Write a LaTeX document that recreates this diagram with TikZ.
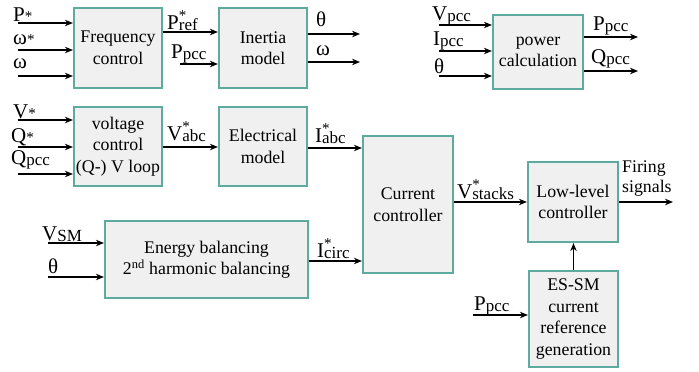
\documentclass[tikz,border=0pt]{standalone}
\usepackage{fontspec}
\setmainfont{Liberation Serif}
\usetikzlibrary{arrows.meta}
\definecolor{boxline}{RGB}{94,170,158}
\definecolor{boxfill}{RGB}{240,240,240}
\newcommand\BigL[1]{{\fontsize{21}{21}\selectfont #1}}
\newcommand\SubL[1]{\raisebox{-1.5pt}{\fontsize{17}{17}\selectfont #1}}
\newcommand\StarL{{\fontsize{15}{15}\selectfont *}}
\newcommand\StackL[2]{\BigL{#1}\rlap{\raisebox{9pt}{\fontsize{15}{15}\selectfont *}}\SubL{#2}}
\begin{document}
\begin{tikzpicture}[x=1pt,y=-1pt,
  blk/.style={draw=boxline, fill=boxfill, line width=2.2pt, align=center, inner sep=0pt, font=\fontsize{17.8}{21.5}\selectfont},
  sig/.style={-{Stealth[length=8pt,width=6.5pt]}, line width=1.2pt},
  lbl/.style={anchor=base west, inner sep=0pt}]
\useasboundingbox (0,0) rectangle (699,372);

% blocks
\node[blk, minimum width=88pt, minimum height=80pt] (freq) at (118,48) {Frequency\\control};
\node[blk, minimum width=88pt, minimum height=80pt] (inertia) at (263,48) {Inertia\\model};
\node[blk, minimum width=90pt, minimum height=74pt] (power) at (538,52) {power\\calculation};
\node[blk, minimum width=88pt, minimum height=79pt] (volt) at (118,146.5) {voltage\\control\\(Q-) V loop};
\node[blk, minimum width=88pt, minimum height=79pt] (elec) at (263,146.5) {Electrical\\model};
\node[blk, minimum width=90pt, minimum height=137pt] (curr) at (408,204.5) {Current\\controller};
\node[blk, minimum width=90pt, minimum height=80pt] (low) at (573,202) {Low-level\\controller};
\node[blk, minimum width=203pt, minimum height=77pt] (energy) at (206.5,259.5) {Energy balancing\\2\textsuperscript{nd} harmonic balancing};
\node[blk, minimum width=89pt, minimum height=96pt] (essm) at (573.5,319) {ES-SM\\current\\reference\\generation};

% frequency control inputs
\coordinate (iPs) at (18,23);
\coordinate (iWs) at (18,50);
\coordinate (iW) at (18,76);
\draw[sig] (iPs) -- (iPs -| freq.west);
\draw[sig] (iWs) -- (iWs -| freq.west);
\draw[sig] (iW) -- (iW -| freq.west);
\node[lbl] (lPs) at (13,21) {\BigL{P}\StarL};
\node[lbl] (lWs) at (13,44) {\BigL{ω}\StarL};
\node[lbl] (lW) at (13,68) {\BigL{ω}};

% freq -> inertia
\coordinate (yPref) at (0,32);
\draw[sig] (freq.east |- yPref) -- (inertia.west |- yPref);
\node[lbl] (lPref) at (167,29) {\StackL{P}{ref}};
\coordinate (iPpcc) at (180,64);
\draw[sig] (iPpcc) -- (iPpcc -| inertia.west);
\node[lbl] (lPpcc) at (171,58) {\BigL{P}\SubL{pcc}};

% inertia outputs
\coordinate (oTh) at (360,34);
\coordinate (oW) at (360,62);
\draw[sig] (inertia.east |- oTh) -- (oTh);
\draw[sig] (inertia.east |- oW) -- (oW);
\node[lbl] (lTh) at (316,27) {\BigL{θ}};
\node[lbl] (lWo) at (316,55) {\BigL{ω}};

% power calculation
\coordinate (iV) at (439,25);
\coordinate (iI) at (439,51);
\coordinate (iTh) at (439,76);
\draw[sig] (iV) -- (iV -| power.west);
\draw[sig] (iI) -- (iI -| power.west);
\draw[sig] (iTh) -- (iTh -| power.west);
\node[lbl] (lV) at (432,20) {\BigL{V}\SubL{pcc}};
\node[lbl] (lI) at (433,45) {\BigL{I}\SubL{pcc}};
\node[lbl] (lTh2) at (434,73) {\BigL{θ}};
\coordinate (oP) at (638,37);
\coordinate (oQ) at (638,71);
\draw[sig] (power.east |- oP) -- (oP);
\draw[sig] (power.east |- oQ) -- (oQ);
\node[lbl] (lPo) at (593,30) {\BigL{P}\SubL{pcc}};
\node[lbl] (lQo) at (591,63) {\BigL{Q}\SubL{pcc}};

% voltage control inputs
\coordinate (iVs) at (18,120);
\coordinate (iQs) at (18,147);
\coordinate (iQp) at (18,174);
\draw[sig] (iVs) -- (iVs -| volt.west);
\draw[sig] (iQs) -- (iQs -| volt.west);
\draw[sig] (iQp) -- (iQp -| volt.west);
\node[lbl] (lVs) at (13,118) {\BigL{V}\StarL};
\node[lbl] (lQs) at (11,142) {\BigL{Q}\StarL};
\node[lbl] (lQp) at (11,164) {\BigL{Q}\SubL{pcc}};

% volt -> elec -> curr
\coordinate (yVabc) at (0,147);
\draw[sig] (volt.east |- yVabc) -- (elec.west |- yVabc);
\node[lbl] (lVabc) at (167,140) {\StackL{V}{abc}};
\coordinate (yIabc) at (0,148);
\draw[sig] (elec.east |- yIabc) -- (curr.west |- yIabc);
\node[lbl] (lIabc) at (315,142) {\StackL{I}{abc}};

% energy balancing
\coordinate (iVsm) at (48,243);
\coordinate (iTh3) at (48,277);
\draw[sig] (iVsm) -- (iVsm -| energy.west);
\draw[sig] (iTh3) -- (iTh3 -| energy.west);
\node[lbl] (lVsm) at (42,240) {\BigL{V}\SubL{SM}};
\node[lbl] (lTh3) at (48,273) {\BigL{θ}};
\coordinate (yIc) at (0,261);
\draw[sig] (energy.east |- yIc) -- (curr.west |- yIc);
\node[lbl] (lIc) at (317,257) {\StackL{I}{circ}};

% curr -> low
\coordinate (ySt) at (0,202);
\draw[sig] (curr.east |- ySt) -- (low.west |- ySt);
\node[lbl] (lSt) at (457,198) {\StackL{V}{stacks}};
\coordinate (oF) at (673,202);
\draw[sig] (low.east |- oF) -- (oF);
\node[anchor=base west, inner sep=0pt, align=left, font=\fontsize{17.8}{20}\selectfont] (lF) at (622,192) {Firing\\signals};

% essm
\draw[sig] (essm.north) -- (essm.north |- low.south);
\coordinate (iPe) at (473,315);
\draw[sig] (iPe) -- (iPe -| essm.west);
\node[lbl] (lPe) at (474,310) {\BigL{P}\SubL{pcc}};
\end{tikzpicture}
\end{document}
